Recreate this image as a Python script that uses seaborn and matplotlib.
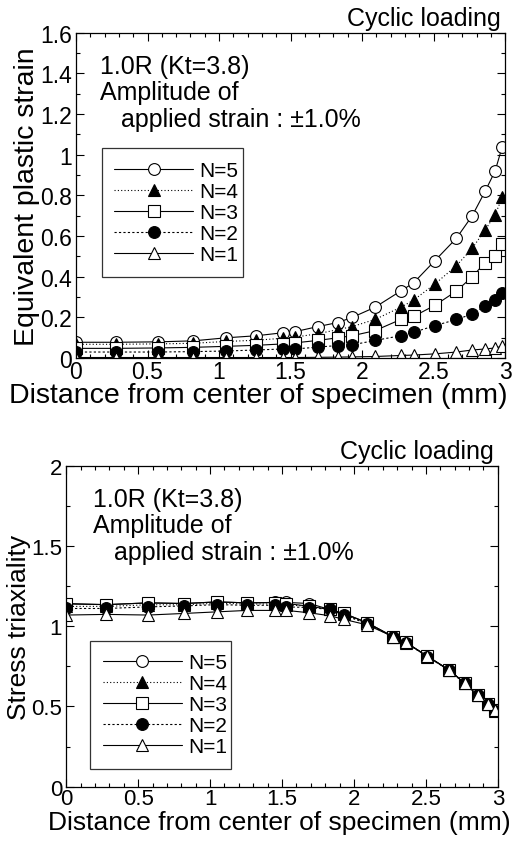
import matplotlib
matplotlib.use("Agg")
import matplotlib.pyplot as plt
import seaborn as sns
from matplotlib.ticker import MultipleLocator

sns.set_style("ticks")
plt.rcParams["font.family"] = ["Liberation Sans", "DejaVu Sans"]
plt.rcParams.update({"text.color": "black", "axes.labelcolor": "black",
                     "xtick.color": "black", "ytick.color": "black"})

# ---------------------------------------------------------
# Data
# ---------------------------------------------------------
x = [0, 0.28, 0.57, 0.82, 1.05, 1.26, 1.45, 1.53, 1.69, 1.83, 1.93,
     2.09, 2.27, 2.36, 2.51, 2.66, 2.77, 2.86, 2.93, 2.98]

# equivalent plastic strain
eps_n5 = [0.078, 0.078, 0.080, 0.085, 0.100, 0.110, 0.125, 0.130, 0.155, 0.175, 0.200,
          0.250, 0.330, 0.370, 0.480, 0.590, 0.700, 0.820, 0.920, 1.040]
eps_n4 = [0.068, 0.068, 0.070, 0.073, 0.082, 0.088, 0.098, 0.103, 0.120, 0.140, 0.155,
          0.190, 0.250, 0.285, 0.365, 0.455, 0.540, 0.630, 0.705, 0.790]
eps_n3 = [0.048, 0.048, 0.050, 0.053, 0.058, 0.063, 0.070, 0.075, 0.087, 0.100, 0.110,
          0.135, 0.190, 0.205, 0.260, 0.330, 0.400, 0.470, 0.500, 0.560]
eps_n2 = [0.030, 0.030, 0.030, 0.032, 0.035, 0.040, 0.045, 0.045, 0.054, 0.062, 0.065,
          0.087, 0.110, 0.127, 0.160, 0.190, 0.217, 0.258, 0.285, 0.318]
eps_n1 = [0.003, 0.003, 0.003, 0.003, 0.003, 0.003, 0.003, 0.003, 0.004, 0.005, 0.006,
          0.008, 0.013, 0.015, 0.021, 0.030, 0.040, 0.045, 0.050, 0.058]

# stress triaxiality
tri_n5 = [1.140, 1.136, 1.147, 1.143, 1.153, 1.147, 1.150, 1.150, 1.143, 1.106, 1.081,
          1.024, 0.937, 0.900, 0.814, 0.728, 0.646, 0.572, 0.517, 0.476]
tri_n4 = [1.125, 1.125, 1.135, 1.135, 1.145, 1.140, 1.140, 1.135, 1.125, 1.106, 1.075,
          1.020, 0.935, 0.898, 0.812, 0.726, 0.644, 0.570, 0.515, 0.474]
tri_n3 = [1.143, 1.136, 1.147, 1.143, 1.153, 1.147, 1.149, 1.143, 1.126, 1.106, 1.081,
          1.024, 0.937, 0.900, 0.814, 0.728, 0.646, 0.572, 0.517, 0.476]
tri_n2 = [1.112, 1.112, 1.122, 1.128, 1.136, 1.132, 1.132, 1.122, 1.118, 1.106, 1.070,
          1.018, 0.935, 0.898, 0.812, 0.726, 0.644, 0.570, 0.515, 0.474]
tri_n1 = [1.071, 1.075, 1.071, 1.081, 1.091, 1.100, 1.100, 1.100, 1.085, 1.067, 1.044,
          1.010, 0.937, 0.900, 0.814, 0.728, 0.646, 0.572, 0.517, 0.476]

labels = ["N=5", "N=4", "N=3", "N=2", "N=1"]
markers = ["o", "^", "s", "o", "^"]
faces = ["white", "black", "white", "black", "white"]
styles = ["-", (0, (1, 2)), "-", (0, (2, 2)), "-"]

fig = plt.figure(figsize=(5.17, 8.45), dpi=100)
ax1 = fig.add_axes([0.147, 0.575, 0.83, 0.385])
ax2 = fig.add_axes([0.128, 0.068, 0.835, 0.379])


def draw(ax, series, ymax, ymajor, yminor, ylabel, leg_box, txt_xy,
         tick_fs, label_fs, xlab_xy):
    for ys, lab, m, fc, ls in zip(series, labels, markers, faces, styles):
        sns.lineplot(x=x, y=ys, ax=ax, color="black", linewidth=0.8,
                     linestyle=ls, marker=m, markersize=8.5,
                     markerfacecolor=fc, markeredgecolor="black",
                     markeredgewidth=0.8, label=lab)
    ax.set_xlim(0, 3)
    ax.set_ylim(0, ymax)
    ax.xaxis.set_major_locator(MultipleLocator(0.5))
    ax.xaxis.set_minor_locator(MultipleLocator(0.1))
    ax.yaxis.set_major_locator(MultipleLocator(ymajor))
    ax.yaxis.set_minor_locator(MultipleLocator(yminor))
    ax.tick_params(which="both", direction="in", top=True, right=True,
                   labelsize=tick_fs, pad=3)
    ax.tick_params(axis="x", which="both", pad=1)
    ax.tick_params(which="major", length=6, width=0.8)
    ax.tick_params(which="minor", length=3, width=0.8)
    ax.yaxis.set_major_formatter(plt.FuncFormatter(lambda v, p: f"{v:g}"))
    ax.xaxis.set_major_formatter(plt.FuncFormatter(lambda v, p: f"{v:g}"))
    for s in ax.spines.values():
        s.set_linewidth(0.9)
        s.set_color("black")
    ax.set_xlabel("Distance from center of specimen (mm)", fontsize=label_fs)
    ax.xaxis.set_label_coords(xlab_xy[0], xlab_xy[1])
    ax.xaxis.label.set_va("baseline")
    ax.set_ylabel(ylabel, fontsize=label_fs, labelpad=0)
    ax.text(0.99, 1.01, "Cyclic loading", transform=ax.transAxes,
            ha="right", va="bottom", fontsize=18)
    ax.text(txt_xy[0], txt_xy[1],
            "1.0R (Kt=3.8)\nAmplitude of\n   applied strain : \u00b11.0%",
            transform=ax.transAxes, ha="left", va="top", fontsize=18,
            linespacing=1.12)
    leg = ax.legend(loc="lower left", bbox_to_anchor=leg_box, mode="expand",
                    fontsize=15, handlelength=3.8, handletextpad=0.3,
                    labelspacing=0.1, borderpad=0.6, frameon=True,
                    fancybox=False, edgecolor="black", borderaxespad=0)
    leg.get_frame().set_linewidth(0.9)


draw(ax1, [eps_n5, eps_n4, eps_n3, eps_n2, eps_n1], 1.6, 0.2, 0.1,
     "Equivalent plastic strain", (0.06, 0.25, 0.33, 0.4), (0.055, 0.935),
     16.5, 20.5, (0.424, -0.135))
draw(ax2, [tri_n5, tri_n4, tri_n3, tri_n2, tri_n1], 2.0, 0.5, 0.25,
     "Stress triaxiality", (0.056, 0.055, 0.326, 0.403), (0.062, 0.935),
     16, 19, (0.493, -0.132))

fig.savefig("out.png", dpi=100)
